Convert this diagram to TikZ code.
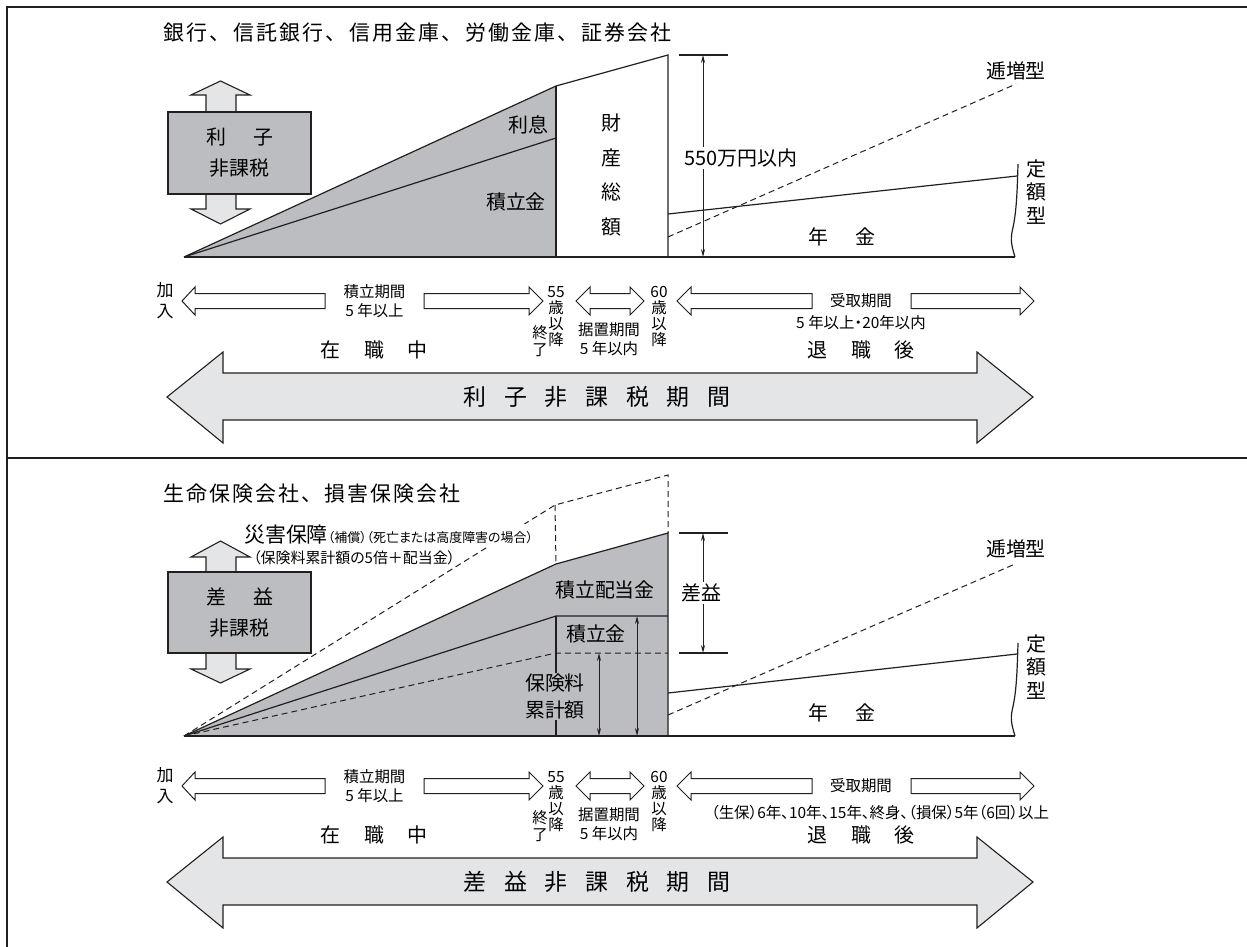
\documentclass[tikz,border=0pt]{standalone}
\usepackage{fontspec}
\usetikzlibrary{arrows.meta}
\newfontfamily\jp{Noto Sans CJK JP}
\newfontfamily\jpp{Noto Sans CJK JP}[RawFeature=+palt]
\newfontfamily\jpt{Noto Sans CJK JP}[LetterSpace=10]
\definecolor{ink}{HTML}{231F20}
\definecolor{midgray}{HTML}{BCBDC0}
\definecolor{lightgray}{HTML}{E4E5E7}
\newcommand\fs[1]{\fontsize{#1}{#1}\selectfont}
\newcommand\gap[1]{\hspace{#1bp}}
\tikzset{
  frameline/.style={draw=ink, line width=1.8bp},
  stroke/.style={draw=ink, line width=1.2bp},
  dashedline/.style={draw=ink, line width=1bp, dash pattern=on 6bp off 4bp},
  hollow/.style={draw=ink, line width=1bp, fill=white},
  bigarrow/.style={draw=ink, line width=1.1bp, fill=lightgray},
  boxstyle/.style={draw=ink, line width=1.1bp, fill=midgray},
  dimarrow/.style={draw=ink, line width=0.9bp, {Stealth[length=8bp,width=4bp]}-{Stealth[length=8bp,width=4bp]}},
  lbl/.style={font=\jp\fs{20}, inner sep=0.5bp},
  sm/.style={font=\jpp\fontsize{15.5}{17}\selectfont, inner sep=0.5bp, align=center}
}
\newcommand\timeline[5]{%
  \draw[hollow] (182,301) -- (195,287) -- (195,293.5) -- (325,293.5) -- (325,308.5) -- (195,308.5) -- (195,315) -- cycle;
  \draw[hollow] (424,293.5) -- (529,293.5) -- (529,287) -- (543,301) -- (529,315) -- (529,308.5) -- (424,308.5) -- cycle;
  \draw[hollow] (576,301) -- (590,287) -- (590,293.5) -- (630,293.5) -- (630,287) -- (644,301) -- (630,315) -- (630,308.5) -- (590,308.5) -- (590,315) -- cycle;
  \draw[hollow] (677,301) -- (691,287) -- (691,293.5) -- (812,293.5) -- (812,308.5) -- (691,308.5) -- (691,315) -- cycle;
  \draw[hollow] (911,293.5) -- (1020,293.5) -- (1020,287) -- (1034,301) -- (1020,315) -- (1020,308.5) -- (911,308.5) -- cycle;
  \node[sm, font=\jp\fontsize{17}{21}\selectfont] (#1join) at (165,300.5) {加\\入};
  \node[sm, font=\jp\fontsize{15.5}{18.5}\selectfont] (#1accum) at (374.5,301) {積立期間\\5 年以上};
  \node[sm, font=\jpp\fontsize{15.5}{16.3}\selectfont] (#1aa) at (556,316.5) {55\\歳\\以\\降};
  \node[sm, font=\jp\fontsize{15.5}{17}\selectfont] (#1end) at (540,341.5) {終\\了};
  \node[sm, font=\jpp\fontsize{15.5}{19}\selectfont] (#1defer) at (609,339.5) {据置期間\\5 年以内};
  \node[sm, font=\jpp\fontsize{15.5}{16.3}\selectfont] (#1ab) at (659,316.5) {60\\歳\\以\\降};
  \node[sm] (#1recv) at (861,301) {受取期間};
  \node[sm] (#1recvb) at (#2,#3) {#4};
  \node[lbl] (#1work) at (374,350) {在\gap{24}職\gap{24}中};
  \node[lbl] (#1retire) at (861,350) {退\gap{23.5}職\gap{23.5}後};
  \draw[bigarrow] (167,397) -- (223,352) -- (223,373) -- (977,373) -- (977,352) -- (1033,397) -- (977,443) -- (977,420) -- (223,420) -- (223,443) -- cycle;
  \node[font=\jp\fs{23}, inner sep=0] (#1period) at (597,397) {#5};
}
\newcommand\spread[1]{\hspace{17.7bp}}
\begin{document}
\begin{tikzpicture}[x=1bp,y=-1bp]
\useasboundingbox (0,0) rectangle (1247,947);
\fill[white] (0,0) rectangle (1247,947);

% ================= top panel =================
\node[anchor=west, font=\jpt\fs{21}, inner sep=0] (titleA) at (163,33) {銀行、\gap{3}信託銀行、\gap{3}信用金庫、\gap{3}労働金庫、\gap{3}証券会社};

\draw[bigarrow] (206,112) -- (206,95) -- (191,95) -- (220.5,81) -- (250,95) -- (236,95) -- (236,112) -- cycle;
\draw[bigarrow] (206,194) -- (206,209) -- (191,209) -- (220.5,224) -- (250,209) -- (236,209) -- (236,194) -- cycle;
\node[boxstyle, minimum width=143bp, minimum height=82bp, inner sep=0] (boxA) at (239.5,153) {};
\node[lbl] (boxAa) at (240,137) {利\gap{28}子};
\node[lbl] (boxAb) at (239.5,168) {非課税};

\coordinate (OA) at (184,257);
\coordinate (TA) at (556,86);
\coordinate (RA) at (668,55);
\coordinate (SA) at (556,138);
\coordinate (BA) at (556,257);
\coordinate (CA) at (668,257);
\coordinate (EA) at (1015,257);
\fill[midgray] (OA) -- (TA) -- (BA) -- cycle;
\draw[stroke] (OA) -- (SA);
\draw[stroke] (OA) -- (TA) -- (RA) -- (CA);
\draw[stroke] (TA) -- (BA);
\draw[stroke] (OA) -- (EA);
\draw[dashedline] (668,237) -- (1016,84);
\draw[stroke] (668,214) -- (1017,176);
\draw[stroke] (1018,164) .. controls (1017,200) and (1016,215) .. (1012,232) .. controls (1010,242) and (1013,250) .. (1015,257);

\coordinate (DAt) at (703,55);
\coordinate (DAb) at (703,257);
\draw[stroke] (679,55) -- (728,55);
\draw[dimarrow] (DAt) -- (DAb);
\node[lbl, fill=white, inner sep=2bp] (amtA) at (741,158) {550万円以内};

\node[lbl] (riA) at (528,125) {利息};
\node[lbl] (tsA) at (516,202) {積立金};
\node[lbl, align=center, font=\jp\fontsize{20}{34.7}\selectfont] (zaiA) at (611,175) {財\\産\\総\\額};
\node[lbl] (teizoA) at (1016,71) {逓増型};
\node[lbl, align=center, font=\jp\fontsize{20}{23.5}\selectfont] (teigakuA) at (1036,192) {定\\額\\型};
\node[lbl] (nenA) at (841.5,237) {年\gap{27}金};

\timeline{A}{861}{323}{5 年以上・20年以内}{利\spread{}子\spread{}非\spread{}課\spread{}税\spread{}期\spread{}間}

% ================= bottom panel =================
\node[anchor=west, font=\jpt\fs{21}, inner sep=0] (titleB) at (163,494) {生命保険会社、損害保険会社};

\draw[bigarrow] (206,572) -- (206,557) -- (191,557) -- (220.5,541) -- (250,557) -- (236,557) -- (236,572) -- cycle;
\draw[bigarrow] (206,653) -- (206,669) -- (191,669) -- (220.5,683) -- (250,669) -- (236,669) -- (236,653) -- cycle;
\node[boxstyle, minimum width=143bp, minimum height=81bp, inner sep=0] (boxB) at (239.5,612.5) {};
\node[lbl] (boxBa) at (240,597) {差\gap{28}益};
\node[lbl] (boxBb) at (239.5,628) {非課税};

\coordinate (OB) at (184,736);
\coordinate (TB) at (556,564);
\coordinate (RB) at (668,533);
\coordinate (CB) at (668,736);
\coordinate (SB) at (556,616);
\coordinate (SBr) at (668,616);
\coordinate (BB) at (556,736);
\coordinate (PB) at (556,653);
\coordinate (PBr) at (668,653);
\coordinate (UB) at (555,505);
\coordinate (URB) at (668,475);
\coordinate (EB) at (1015,736);
\fill[midgray] (OB) -- (TB) -- (RB) -- (CB) -- cycle;
\draw[stroke] (OB) -- (TB) -- (RB) -- (CB);
\draw[stroke] (OB) -- (SB) -- (SBr);
\draw[stroke] (SB) -- (BB);
\draw[stroke] (OB) -- (EB);
\draw[dashedline] (OB) -- (PB) -- (PBr);
\draw[dashedline] (OB) -- (UB) -- (URB) -- (RB);
\draw[dashedline] (UB) -- (TB);
\coordinate (VAt) at (599,653);
\coordinate (VAb) at (599,736);
\coordinate (VBt) at (637,616);
\coordinate (VBb) at (637,736);
\draw[dimarrow] (VAt) -- (VAb);
\draw[dimarrow] (VBt) -- (VBb);

\draw[dashedline] (668,715) -- (1015,564);
\draw[stroke] (668,693) -- (1017,654);
\draw[stroke] (1018,643) .. controls (1017,679) and (1016,694) .. (1012,711) .. controls (1010,721) and (1013,729) .. (1015,736);

\coordinate (DBt) at (703,533);
\coordinate (DBb) at (703,653);
\draw[stroke] (679,533) -- (728,533);
\draw[stroke] (679,653) -- (728,653);
\draw[dimarrow] (DBt) -- (DBb);
\node[lbl, fill=white, inner sep=2bp] (saekiB) at (701,593) {差益};

\node[anchor=west, fill=white, inner sep=1bp] (saigai) at (243,535) {{\jp\fs{21}災害保障}{\jpp\fs{13}（補償）（死亡または高度障害の場合）}};
\node[anchor=west, fill=white, inner sep=1bp, font=\jpp\fs{15}] (saigaib) at (252,558) {（保険料累計額の5倍＋配当金）};

\node[lbl] (haitoB) at (605,590) {積立配当金};
\node[lbl] (tsB) at (596,634) {積立金};
\node[lbl, align=center, fill=midgray, inner sep=1bp, font=\jp\fontsize{20}{27}\selectfont] (hokenB) at (555,696.5) {保険料\\累計額};
\node[lbl] (teizoB) at (1016,549) {逓増型};
\node[lbl, align=center, font=\jp\fontsize{20}{23.5}\selectfont] (teigakuB) at (1036,667) {定\\額\\型};
\node[lbl] (nenB) at (842,713) {年\gap{27}金};

\begin{scope}[shift={(0,485)}]
\timeline{B}{880}{328}{（生保）6年、10年、15年、終身、（損保）5年（6回）以上}{差\spread{}益\spread{}非\spread{}課\spread{}税\spread{}期\spread{}間}
\end{scope}

% ================= frame =================
\draw[frameline] (7,947) -- (7,7) -- (1247,7);
\draw[frameline] (7,458) -- (1247,458);
\end{tikzpicture}
\end{document}
